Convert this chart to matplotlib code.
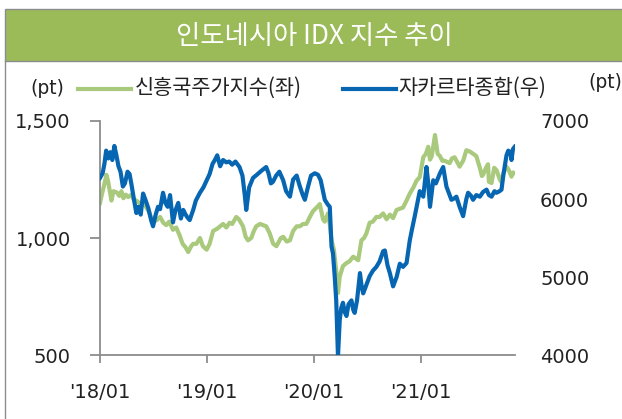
import pandas as pd
import matplotlib
matplotlib.use("Agg")
import matplotlib.pyplot as plt
from matplotlib.patches import Rectangle
from matplotlib.lines import Line2D

plt.rcParams['font.family'] = ['DejaVu Sans', 'Noto Sans CJK KR']
KR = ['Noto Sans CJK KR', 'DejaVu Sans']

# Jakarta Composite (right axis)
jci_dates = [
    "2018-01-01", "2018-01-10", "2018-01-16", "2018-01-22", "2018-01-29", "2018-02-05", "2018-02-12",
    "2018-02-19", "2018-02-26", "2018-03-05", "2018-03-12", "2018-03-20", "2018-03-27", "2018-04-05",
    "2018-04-12", "2018-04-20", "2018-04-27", "2018-05-05", "2018-05-12", "2018-05-20", "2018-05-28",
    "2018-06-05", "2018-06-15", "2018-06-25", "2018-07-01", "2018-07-10", "2018-07-18", "2018-07-25",
    "2018-08-04", "2018-08-12", "2018-08-20", "2018-08-28", "2018-09-07", "2018-09-15", "2018-09-25",
    "2018-10-04", "2018-10-12", "2018-10-20", "2018-10-27", "2018-11-03", "2018-11-15", "2018-11-24",
    "2018-12-08", "2018-12-20", "2018-12-31", "2019-01-10", "2019-01-20", "2019-01-28", "2019-02-05",
    "2019-02-15", "2019-02-25", "2019-03-08", "2019-03-18", "2019-03-28", "2019-04-08", "2019-04-22",
    "2019-05-02", "2019-05-10", "2019-05-15", "2019-05-25", "2019-06-07", "2019-06-20", "2019-07-05",
    "2019-07-22", "2019-07-30", "2019-08-07", "2019-08-14", "2019-08-25", "2019-09-05", "2019-09-18",
    "2019-09-28", "2019-10-11", "2019-10-22", "2019-11-03", "2019-11-14", "2019-11-24", "2019-12-01",
    "2019-12-12", "2019-12-22", "2020-01-04", "2020-01-15", "2020-01-24", "2020-02-01", "2020-02-07",
    "2020-02-17", "2020-02-24", "2020-03-01", "2020-03-06", "2020-03-12", "2020-03-17", "2020-03-23",
    "2020-03-29", "2020-04-03", "2020-04-09", "2020-04-15", "2020-04-21", "2020-04-28", "2020-05-08",
    "2020-05-14", "2020-05-19", "2020-05-27", "2020-06-06", "2020-06-11", "2020-06-17", "2020-06-28",
    "2020-07-09", "2020-07-20", "2020-08-01", "2020-08-12", "2020-08-24", "2020-08-30", "2020-09-08",
    "2020-09-16", "2020-09-27", "2020-10-09", "2020-10-20", "2020-10-31", "2020-11-12", "2020-11-23",
    "2020-12-01", "2020-12-10", "2020-12-27", "2021-01-08", "2021-01-19", "2021-01-25", "2021-01-31",
    "2021-02-11", "2021-02-20", "2021-03-06", "2021-03-17", "2021-03-28", "2021-04-08", "2021-04-14",
    "2021-04-25", "2021-05-01", "2021-05-12", "2021-05-24", "2021-06-04", "2021-06-10", "2021-06-20",
    "2021-06-27", "2021-07-08", "2021-07-20", "2021-07-31", "2021-08-12", "2021-08-20", "2021-08-29",
    "2021-09-08", "2021-09-15", "2021-09-25", "2021-10-02", "2021-10-08", "2021-10-13", "2021-10-19",
    "2021-10-25", "2021-11-01", "2021-11-05", "2021-11-10", "2021-11-16",
]
jci_vals = [
    6270, 6330, 6450, 6620, 6520, 6600, 6500,
    6680, 6560, 6420, 6350, 6160, 6200, 6350,
    6320, 6150, 5990, 5820, 5900, 5800, 6070,
    5990, 5880, 5720, 5650, 5800, 5900, 5870,
    6080, 5950, 5900, 6050, 5700, 5850, 5950,
    5750, 5860, 5800, 5760, 5730, 5860, 5980,
    6080, 6150, 6240, 6320, 6450, 6500, 6560,
    6420, 6500, 6470, 6480, 6440, 6480, 6410,
    6300, 6050, 5860, 6150, 6270, 6310, 6360,
    6410, 6330, 6200, 6220, 6300, 6350, 6240,
    6100, 6030, 6250, 6300, 6160, 6050, 5990,
    6160, 6300, 6330, 6310, 6240, 6100, 5990,
    5930, 5900, 5390, 5300, 5000, 4700, 3980,
    4450, 4600, 4670, 4550, 4500, 4650, 4700,
    4580, 4540, 4700, 5050, 4900, 4790, 4900,
    5010, 5080, 5130, 5200, 5330, 5340, 5150,
    5050, 4880, 5000, 5170, 5130, 5180, 5470,
    5620, 5780, 6100, 6030, 6410, 6200, 5900,
    6240, 6200, 6330, 6410, 6160, 6050, 5990,
    6010, 6030, 5900, 5780, 6000, 6080, 6040,
    5990, 6050, 6030, 6090, 6120, 6050, 6030,
    6100, 6080, 6100, 6120, 6300, 6420, 6560,
    6620, 6600, 6500, 6640, 6670,
]

# Emerging markets index (left axis)
em_dates = [
    "2018-01-01", "2018-01-08", "2018-01-16", "2018-01-23", "2018-01-29", "2018-02-05", "2018-02-09",
    "2018-02-16", "2018-02-27", "2018-03-08", "2018-03-15", "2018-03-22", "2018-03-30", "2018-04-07",
    "2018-04-18", "2018-04-26", "2018-05-05", "2018-05-15", "2018-05-25", "2018-06-01", "2018-06-08",
    "2018-06-18", "2018-06-28", "2018-07-12", "2018-07-25", "2018-08-05", "2018-08-15", "2018-08-25",
    "2018-09-07", "2018-09-18", "2018-09-30", "2018-10-10", "2018-10-20", "2018-10-29", "2018-11-08",
    "2018-11-15", "2018-11-26", "2018-12-08", "2018-12-18", "2018-12-31", "2019-01-10", "2019-01-22",
    "2019-02-05", "2019-02-15", "2019-02-25", "2019-03-08", "2019-03-19", "2019-03-28", "2019-04-11",
    "2019-04-20", "2019-05-04", "2019-05-13", "2019-05-21", "2019-06-01", "2019-06-10", "2019-06-18",
    "2019-07-01", "2019-07-11", "2019-07-22", "2019-08-03", "2019-08-15", "2019-08-26", "2019-09-10",
    "2019-09-18", "2019-09-30", "2019-10-11", "2019-10-22", "2019-11-03", "2019-11-14", "2019-11-25",
    "2019-12-06", "2019-12-18", "2019-12-29", "2020-01-10", "2020-01-21", "2020-02-01", "2020-02-07",
    "2020-02-18", "2020-02-24", "2020-03-01", "2020-03-09", "2020-03-17", "2020-03-23", "2020-03-29",
    "2020-04-09", "2020-04-21", "2020-05-01", "2020-05-14", "2020-05-31", "2020-06-11", "2020-06-20",
    "2020-06-28", "2020-07-09", "2020-07-20", "2020-08-01", "2020-08-12", "2020-08-24", "2020-09-05",
    "2020-09-16", "2020-09-27", "2020-10-09", "2020-10-20", "2020-10-31", "2020-11-12", "2020-11-23",
    "2020-12-05", "2020-12-16", "2020-12-27", "2021-01-08", "2021-01-17", "2021-01-25", "2021-01-31",
    "2021-02-06", "2021-02-17", "2021-02-26", "2021-03-06", "2021-03-14", "2021-03-22", "2021-04-08",
    "2021-04-16", "2021-04-25", "2021-05-12", "2021-05-24", "2021-06-04", "2021-06-15", "2021-06-27",
    "2021-07-08", "2021-07-20", "2021-07-27", "2021-07-31", "2021-08-10", "2021-08-17", "2021-08-20",
    "2021-08-29", "2021-09-07", "2021-09-15", "2021-09-26", "2021-10-01", "2021-10-08", "2021-10-19",
    "2021-10-27", "2021-11-05", "2021-11-10", "2021-11-16",
]
em_vals = [
    1150, 1190, 1230, 1270, 1240, 1190, 1160,
    1200, 1195, 1180, 1200, 1170, 1185, 1175,
    1185, 1165, 1160, 1150, 1140, 1150, 1130,
    1110, 1075, 1075, 1090, 1065, 1055, 1070,
    1035, 1045, 1010, 975, 960, 940, 965,
    975, 975, 1000, 965, 950, 975, 1030,
    1040, 1050, 1060, 1045, 1065, 1060, 1090,
    1080, 1050, 1005, 990, 1000, 1030, 1050,
    1060, 1055, 1050, 1020, 975, 965, 1000,
    1005, 985, 990, 1030, 1050, 1050, 1060,
    1060, 1090, 1115, 1130, 1145, 1080, 1070,
    1105, 1060, 990, 950, 860, 765, 835,
    880, 893, 900, 920, 905, 990, 1000,
    1020, 1065, 1070, 1090, 1090, 1105, 1080,
    1100, 1085, 1120, 1125, 1130, 1160, 1190,
    1215, 1245, 1260, 1345, 1360, 1390, 1335,
    1350, 1440, 1360, 1350, 1330, 1330, 1320,
    1340, 1345, 1305, 1330, 1375, 1370, 1360,
    1350, 1300, 1265, 1270, 1300, 1315, 1240,
    1235, 1300, 1290, 1250, 1240, 1275, 1305,
    1290, 1262, 1280, 1277,
]

left_ticks = [500, 1000, 1500]
right_ticks = [4000, 5000, 6000, 7000]
x_ticks = ["2018-01-01", "2019-01-01", "2020-01-01", "2021-01-01"]
x_labels = ["'18/01", "'19/01", "'20/01", "'21/01"]

green = '#A9C97D'
blue = '#0766B2'
gray = '#8C8C8C'

W, H = 622, 419
fig = plt.figure(figsize=(W / 100, H / 100), dpi=100)

# title banner + frame
fig.patches.append(Rectangle((5 / W, 1 - 61 / H), 1, 52 / H, transform=fig.transFigure,
                             facecolor='#9BBB59', edgecolor=gray, linewidth=1))
fig.lines.append(Line2D([5 / W, 5 / W], [0, 1 - 61 / H], transform=fig.transFigure,
                        color=gray, linewidth=1))
fig.text(314 / W, 1 - 36 / H, '인도네시아 IDX 지수 추이', family=KR, fontsize=19,
         color='white', ha='center', va='center')

ax = fig.add_axes([100 / W, 1 - 355 / H, 415 / W, 234 / H])
ax2 = ax.twinx()

ax.plot(pd.to_datetime(em_dates), em_vals, color=green, linewidth=3, solid_joinstyle='round')
ax2.plot(pd.to_datetime(jci_dates), jci_vals, color=blue, linewidth=3, solid_joinstyle='round')

ax.set_xlim(pd.Timestamp("2018-01-01"), pd.Timestamp("2021-11-17"))
ax.set_ylim(500, 1500)
ax2.set_ylim(4000, 7000)

ax.set_yticks(left_ticks)
ax.set_yticklabels([f"{v:,}" for v in left_ticks])
ax2.set_yticks(right_ticks)
ax2.set_yticklabels([str(v) for v in right_ticks])
ax.set_xticks(pd.to_datetime(x_ticks))
ax.set_xticklabels(x_labels)

for a in (ax, ax2):
    a.spines['top'].set_visible(False)
    a.spines['right'].set_visible(False)
ax2.spines['left'].set_visible(False)
ax2.spines['bottom'].set_visible(False)
ax.spines['left'].set_color(gray)
ax.spines['bottom'].set_color(gray)
ax.spines['left'].set_linewidth(1.3)
ax.spines['bottom'].set_linewidth(1.3)

ax.tick_params(axis='y', length=7, width=1.3, color=gray, pad=14, labelsize=14, labelcolor='#222222')
ax.tick_params(axis='x', length=6, width=1.3, color=gray, pad=14, labelsize=14, labelcolor='#222222')
ax2.tick_params(axis='y', length=0, pad=18, labelsize=14, labelcolor='#222222')

# units and legend
fig.text(47 / W, 1 - 88 / H, '(pt)', fontsize=13.5, ha='center', va='center', color='#222222')
fig.text(605 / W, 1 - 82 / H, '(pt)', fontsize=13.5, ha='center', va='center', color='#222222')
fig.lines.append(Line2D([78 / W, 131 / W], [1 - 89 / H] * 2, transform=fig.transFigure,
                        color=green, linewidth=3))
fig.text(135 / W, 1 - 88 / H, '신흥국주가지수(좌)', family=KR, fontsize=15,
         ha='left', va='center', color='#222222')
fig.lines.append(Line2D([343 / W, 396 / W], [1 - 89 / H] * 2, transform=fig.transFigure,
                        color=blue, linewidth=3))
fig.text(398 / W, 1 - 88 / H, '자카르타종합(우)', family=KR, fontsize=15,
         ha='left', va='center', color='#222222')

fig.savefig('out.png', dpi=100)
